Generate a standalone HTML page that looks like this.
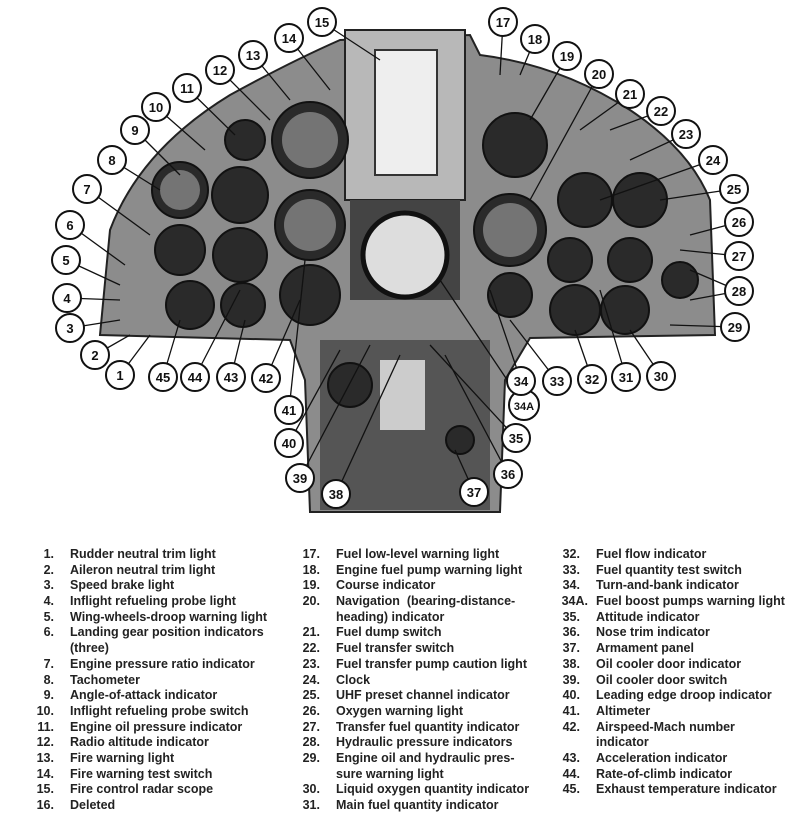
<!DOCTYPE html>
<html><head><meta charset="utf-8">
<style>
html,body{margin:0;padding:0;background:#fff;}
body{width:807px;height:830px;position:relative;overflow:hidden;font-family:"Liberation Sans",sans-serif;}
svg{position:absolute;left:0;top:0;}
.leg{position:absolute;font-size:12.5px;font-weight:bold;color:#222;line-height:15.7px;white-space:nowrap;}
.leg div{position:relative;height:15.7px;}
.leg span.n{position:absolute;text-align:right;}
</style></head><body>
<svg width="807" height="520" viewBox="0 0 807 520">
<!-- panel silhouette -->
<path d="M100,335 L110,230 Q140,150 230,95 Q290,62 340,40 L470,35 L480,55 Q560,65 630,110 Q690,150 710,200 L715,335 L530,338 L505,380 L500,512 L310,512 L305,380 L290,340 Z" fill="#8c8c8c" stroke="#222" stroke-width="2"/>
<rect x="345" y="30" width="120" height="170" fill="#b8b8b8" stroke="#222" stroke-width="2"/>
<rect x="375" y="50" width="62" height="125" fill="#eee" stroke="#333" stroke-width="2"/>
<rect x="350" y="200" width="110" height="100" fill="#444"/>
<circle cx="405" cy="255" r="42" fill="#ddd" stroke="#111" stroke-width="5"/>
<rect x="320" y="340" width="170" height="170" fill="#555"/>
<rect x="380" y="360" width="45" height="70" fill="#ccc"/>
<g fill="#2a2a2a" stroke="#111" stroke-width="2">
<circle cx="245" cy="140" r="20"/><circle cx="310" cy="140" r="38"/>
<circle cx="180" cy="190" r="28"/><circle cx="240" cy="195" r="28"/>
<circle cx="310" cy="225" r="35"/><circle cx="180" cy="250" r="25"/>
<circle cx="240" cy="255" r="27"/><circle cx="310" cy="295" r="30"/>
<circle cx="190" cy="305" r="24"/><circle cx="243" cy="305" r="22"/>
<circle cx="515" cy="145" r="32"/><circle cx="510" cy="230" r="36"/>
<circle cx="510" cy="295" r="22"/><circle cx="585" cy="200" r="27"/>
<circle cx="640" cy="200" r="27"/><circle cx="570" cy="260" r="22"/>
<circle cx="630" cy="260" r="22"/><circle cx="575" cy="310" r="25"/>
<circle cx="625" cy="310" r="24"/><circle cx="680" cy="280" r="18"/>
<circle cx="350" cy="385" r="22"/><circle cx="460" cy="440" r="14"/>
</g>
<g fill="#fff" opacity="0.35">
<circle cx="310" cy="140" r="28"/><circle cx="310" cy="225" r="26"/><circle cx="510" cy="230" r="27"/><circle cx="180" cy="190" r="20"/>
</g>
<g stroke="#111" stroke-width="1.3" fill="none">
<line x1="322" y1="22" x2="380" y2="60"/><line x1="289" y1="38" x2="330" y2="90"/>
<line x1="253" y1="55" x2="290" y2="100"/><line x1="220" y1="70" x2="270" y2="120"/>
<line x1="187" y1="88" x2="235" y2="135"/><line x1="156" y1="107" x2="205" y2="150"/>
<line x1="135" y1="130" x2="180" y2="175"/><line x1="112" y1="160" x2="160" y2="190"/>
<line x1="87" y1="189" x2="150" y2="235"/><line x1="70" y1="225" x2="125" y2="265"/>
<line x1="66" y1="260" x2="120" y2="285"/><line x1="67" y1="298" x2="120" y2="300"/>
<line x1="70" y1="328" x2="120" y2="320"/><line x1="95" y1="355" x2="130" y2="335"/>
<line x1="120" y1="375" x2="150" y2="335"/><line x1="163" y1="377" x2="180" y2="320"/>
<line x1="195" y1="377" x2="240" y2="290"/><line x1="231" y1="377" x2="245" y2="320"/>
<line x1="266" y1="378" x2="300" y2="300"/><line x1="289" y1="410" x2="305" y2="260"/>
<line x1="289" y1="443" x2="340" y2="350"/><line x1="300" y1="478" x2="370" y2="345"/>
<line x1="336" y1="494" x2="400" y2="355"/><line x1="474" y1="492" x2="455" y2="450"/>
<line x1="508" y1="474" x2="445" y2="355"/><line x1="516" y1="438" x2="430" y2="345"/>
<line x1="524" y1="405" x2="440" y2="280"/><line x1="521" y1="381" x2="490" y2="290"/>
<line x1="557" y1="381" x2="510" y2="320"/><line x1="592" y1="379" x2="575" y2="330"/>
<line x1="626" y1="377" x2="600" y2="290"/><line x1="661" y1="376" x2="630" y2="330"/>
<line x1="735" y1="327" x2="670" y2="325"/><line x1="739" y1="291" x2="690" y2="270"/>
<line x1="739" y1="291" x2="690" y2="300"/><line x1="739" y1="256" x2="680" y2="250"/>
<line x1="739" y1="222" x2="690" y2="235"/><line x1="734" y1="189" x2="660" y2="200"/>
<line x1="713" y1="160" x2="600" y2="200"/><line x1="686" y1="134" x2="630" y2="160"/>
<line x1="661" y1="111" x2="610" y2="130"/><line x1="630" y1="94" x2="580" y2="130"/>
<line x1="599" y1="74" x2="530" y2="200"/><line x1="567" y1="56" x2="530" y2="120"/>
<line x1="535" y1="39" x2="520" y2="75"/><line x1="503" y1="22" x2="500" y2="75"/>
</g>
<g font-family="Liberation Sans,sans-serif" font-size="13" font-weight="bold" text-anchor="middle">
<g fill="#fff" stroke="#111" stroke-width="2">
<circle cx="322" cy="22" r="14"/><circle cx="289" cy="38" r="14"/><circle cx="253" cy="55" r="14"/><circle cx="220" cy="70" r="14"/><circle cx="187" cy="88" r="14"/><circle cx="156" cy="107" r="14"/><circle cx="135" cy="130" r="14"/><circle cx="112" cy="160" r="14"/><circle cx="87" cy="189" r="14"/><circle cx="70" cy="225" r="14"/><circle cx="66" cy="260" r="14"/><circle cx="67" cy="298" r="14"/><circle cx="70" cy="328" r="14"/><circle cx="95" cy="355" r="14"/><circle cx="120" cy="375" r="14"/><circle cx="163" cy="377" r="14"/><circle cx="195" cy="377" r="14"/><circle cx="231" cy="377" r="14"/><circle cx="266" cy="378" r="14"/><circle cx="289" cy="410" r="14"/><circle cx="289" cy="443" r="14"/><circle cx="300" cy="478" r="14"/><circle cx="336" cy="494" r="14"/><circle cx="474" cy="492" r="14"/><circle cx="508" cy="474" r="14"/><circle cx="516" cy="438" r="14"/><circle cx="524" cy="405" r="15"/><circle cx="521" cy="381" r="14"/><circle cx="557" cy="381" r="14"/><circle cx="592" cy="379" r="14"/><circle cx="626" cy="377" r="14"/><circle cx="661" cy="376" r="14"/><circle cx="735" cy="327" r="14"/><circle cx="739" cy="291" r="14"/><circle cx="739" cy="256" r="14"/><circle cx="739" cy="222" r="14"/><circle cx="734" cy="189" r="14"/><circle cx="713" cy="160" r="14"/><circle cx="686" cy="134" r="14"/><circle cx="661" cy="111" r="14"/><circle cx="630" cy="94" r="14"/><circle cx="599" cy="74" r="14"/><circle cx="567" cy="56" r="14"/><circle cx="535" cy="39" r="14"/><circle cx="503" cy="22" r="14"/>
</g>
<g fill="#111">
<text x="322" y="27">15</text><text x="289" y="43">14</text><text x="253" y="60">13</text><text x="220" y="75">12</text><text x="187" y="93">11</text><text x="156" y="112">10</text><text x="135" y="135">9</text><text x="112" y="165">8</text><text x="87" y="194">7</text><text x="70" y="230">6</text><text x="66" y="265">5</text><text x="67" y="303">4</text><text x="70" y="333">3</text><text x="95" y="360">2</text><text x="120" y="380">1</text><text x="163" y="382">45</text><text x="195" y="382">44</text><text x="231" y="382">43</text><text x="266" y="383">42</text><text x="289" y="415">41</text><text x="289" y="448">40</text><text x="300" y="483">39</text><text x="336" y="499">38</text><text x="474" y="497">37</text><text x="508" y="479">36</text><text x="516" y="443">35</text><text x="524" y="410" font-size="11">34A</text><text x="521" y="386">34</text><text x="557" y="386">33</text><text x="592" y="384">32</text><text x="626" y="382">31</text><text x="661" y="381">30</text><text x="735" y="332">29</text><text x="739" y="296">28</text><text x="739" y="261">27</text><text x="739" y="227">26</text><text x="734" y="194">25</text><text x="713" y="165">24</text><text x="686" y="139">23</text><text x="661" y="116">22</text><text x="630" y="99">21</text><text x="599" y="79">20</text><text x="567" y="61">19</text><text x="535" y="44">18</text><text x="503" y="27">17</text>
</g></g>
</svg>

<div class="leg" style="left:30px;top:547px;">
<div><span class="n" style="left:0;width:24px">1.</span><span style="position:absolute;left:40px">Rudder neutral trim light</span></div>
<div><span class="n" style="left:0;width:24px">2.</span><span style="position:absolute;left:40px">Aileron neutral trim light</span></div>
<div><span class="n" style="left:0;width:24px">3.</span><span style="position:absolute;left:40px">Speed brake light</span></div>
<div><span class="n" style="left:0;width:24px">4.</span><span style="position:absolute;left:40px">Inflight refueling probe light</span></div>
<div><span class="n" style="left:0;width:24px">5.</span><span style="position:absolute;left:40px">Wing-wheels-droop warning light</span></div>
<div><span class="n" style="left:0;width:24px">6.</span><span style="position:absolute;left:40px">Landing gear position indicators</span></div>
<div><span style="position:absolute;left:40px">(three)</span></div>
<div><span class="n" style="left:0;width:24px">7.</span><span style="position:absolute;left:40px">Engine pressure ratio indicator</span></div>
<div><span class="n" style="left:0;width:24px">8.</span><span style="position:absolute;left:40px">Tachometer</span></div>
<div><span class="n" style="left:0;width:24px">9.</span><span style="position:absolute;left:40px">Angle-of-attack indicator</span></div>
<div><span class="n" style="left:0;width:24px">10.</span><span style="position:absolute;left:40px">Inflight refueling probe switch</span></div>
<div><span class="n" style="left:0;width:24px">11.</span><span style="position:absolute;left:40px">Engine oil pressure indicator</span></div>
<div><span class="n" style="left:0;width:24px">12.</span><span style="position:absolute;left:40px">Radio altitude indicator</span></div>
<div><span class="n" style="left:0;width:24px">13.</span><span style="position:absolute;left:40px">Fire warning light</span></div>
<div><span class="n" style="left:0;width:24px">14.</span><span style="position:absolute;left:40px">Fire warning test switch</span></div>
<div><span class="n" style="left:0;width:24px">15.</span><span style="position:absolute;left:40px">Fire control radar scope</span></div>
<div><span class="n" style="left:0;width:24px">16.</span><span style="position:absolute;left:40px">Deleted</span></div>
</div>

<div class="leg" style="left:296px;top:547px;">
<div><span class="n" style="left:0;width:24px">17.</span><span style="position:absolute;left:40px">Fuel low-level warning light</span></div>
<div><span class="n" style="left:0;width:24px">18.</span><span style="position:absolute;left:40px">Engine fuel pump warning light</span></div>
<div><span class="n" style="left:0;width:24px">19.</span><span style="position:absolute;left:40px">Course indicator</span></div>
<div><span class="n" style="left:0;width:24px">20.</span><span style="position:absolute;left:40px">Navigation &nbsp;(bearing-distance-</span></div>
<div><span style="position:absolute;left:40px">heading) indicator</span></div>
<div><span class="n" style="left:0;width:24px">21.</span><span style="position:absolute;left:40px">Fuel dump switch</span></div>
<div><span class="n" style="left:0;width:24px">22.</span><span style="position:absolute;left:40px">Fuel transfer switch</span></div>
<div><span class="n" style="left:0;width:24px">23.</span><span style="position:absolute;left:40px">Fuel transfer pump caution light</span></div>
<div><span class="n" style="left:0;width:24px">24.</span><span style="position:absolute;left:40px">Clock</span></div>
<div><span class="n" style="left:0;width:24px">25.</span><span style="position:absolute;left:40px">UHF preset channel indicator</span></div>
<div><span class="n" style="left:0;width:24px">26.</span><span style="position:absolute;left:40px">Oxygen warning light</span></div>
<div><span class="n" style="left:0;width:24px">27.</span><span style="position:absolute;left:40px">Transfer fuel quantity indicator</span></div>
<div><span class="n" style="left:0;width:24px">28.</span><span style="position:absolute;left:40px">Hydraulic pressure indicators</span></div>
<div><span class="n" style="left:0;width:24px">29.</span><span style="position:absolute;left:40px">Engine oil and hydraulic pres-</span></div>
<div><span style="position:absolute;left:40px">sure warning light</span></div>
<div><span class="n" style="left:0;width:24px">30.</span><span style="position:absolute;left:40px">Liquid oxygen quantity indicator</span></div>
<div><span class="n" style="left:0;width:24px">31.</span><span style="position:absolute;left:40px">Main fuel quantity indicator</span></div>
</div>

<div class="leg" style="left:556px;top:547px;">
<div><span class="n" style="left:0;width:24px">32.</span><span style="position:absolute;left:40px">Fuel flow indicator</span></div>
<div><span class="n" style="left:0;width:24px">33.</span><span style="position:absolute;left:40px">Fuel quantity test switch</span></div>
<div><span class="n" style="left:0;width:24px">34.</span><span style="position:absolute;left:40px">Turn-and-bank indicator</span></div>
<div><span class="n" style="left:0;width:32px">34A.</span><span style="position:absolute;left:40px">Fuel boost pumps warning light</span></div>
<div><span class="n" style="left:0;width:24px">35.</span><span style="position:absolute;left:40px">Attitude indicator</span></div>
<div><span class="n" style="left:0;width:24px">36.</span><span style="position:absolute;left:40px">Nose trim indicator</span></div>
<div><span class="n" style="left:0;width:24px">37.</span><span style="position:absolute;left:40px">Armament panel</span></div>
<div><span class="n" style="left:0;width:24px">38.</span><span style="position:absolute;left:40px">Oil cooler door indicator</span></div>
<div><span class="n" style="left:0;width:24px">39.</span><span style="position:absolute;left:40px">Oil cooler door switch</span></div>
<div><span class="n" style="left:0;width:24px">40.</span><span style="position:absolute;left:40px">Leading edge droop indicator</span></div>
<div><span class="n" style="left:0;width:24px">41.</span><span style="position:absolute;left:40px">Altimeter</span></div>
<div><span class="n" style="left:0;width:24px">42.</span><span style="position:absolute;left:40px">Airspeed-Mach number</span></div>
<div><span style="position:absolute;left:40px">indicator</span></div>
<div><span class="n" style="left:0;width:24px">43.</span><span style="position:absolute;left:40px">Acceleration indicator</span></div>
<div><span class="n" style="left:0;width:24px">44.</span><span style="position:absolute;left:40px">Rate-of-climb indicator</span></div>
<div><span class="n" style="left:0;width:24px">45.</span><span style="position:absolute;left:40px">Exhaust temperature indicator</span></div>
</div>
</body></html>
